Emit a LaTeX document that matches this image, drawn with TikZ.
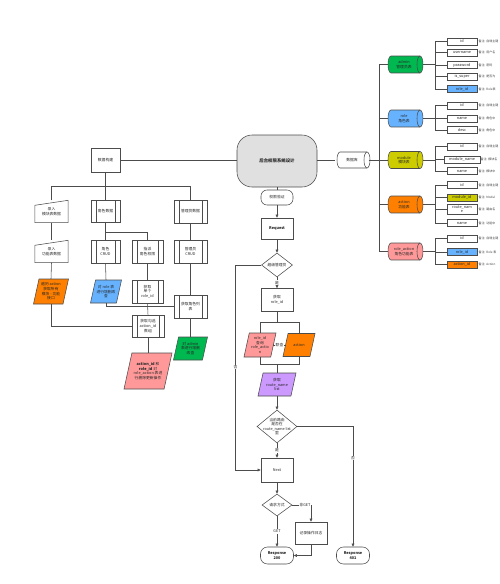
\documentclass[tikz,border=0pt]{standalone}
\usepackage{fontspec}
\setmainfont{Noto Sans CJK SC}
\usetikzlibrary{shapes.geometric,arrows.meta}
\definecolor{cgreen}{RGB}{0,184,80}
\definecolor{cblue}{RGB}{102,178,255}
\definecolor{corange}{RGB}{255,128,0}
\definecolor{colive}{RGB}{204,204,0}
\definecolor{cpink}{RGB}{255,153,153}
\definecolor{cpurple}{RGB}{204,153,255}
\definecolor{cgray}{RGB}{224,224,224}
\tikzset{
 ln/.style={draw=black!70, line width=0.55pt},
 ar/.style={ln, -{Triangle[length=3.2pt,width=2.8pt]}},
 tx/.style={font=\fontsize{3.8}{4.7}\selectfont, align=center, text=black!85, inner sep=0.5pt},
 bx/.style={tx, draw=black!70, line width=0.55pt, fill=white, minimum width=32pt, minimum height=23pt},
 subr/.style={bx, path picture={\draw[black!70, line width=0.5pt]
   ([xshift=5pt]path picture bounding box.north west) -- ([xshift=5pt]path picture bounding box.south west)
   ([xshift=-5pt]path picture bounding box.north east) -- ([xshift=-5pt]path picture bounding box.south east);}},
 fldbox/.style={tx, draw=black!70, line width=0.5pt, fill=white, minimum width=30pt, minimum height=7pt, inner sep=0.3pt},
 nt/.style={tx, anchor=west, font=\fontsize{3}{3.6}\selectfont, text=black!75, inner sep=0.2pt},
 lb/.style={tx, fill=white, inner sep=0.6pt},
 dia/.style={diamond, draw=black!70, line width=0.55pt, fill=white, inner sep=0pt},
 term/.style={bx, rounded corners=7pt},
 bold/.style={font=\fontsize{3.8}{4.7}\selectfont\bfseries},
}
% horizontal cylinder: name, cx, cy, a, b, fill, text
\newcommand\mycyl[7]{%
 \fill[#6] ({#2-#4+3},{#3-#5}) rectangle ({#2+#4-3},{#3+#5});
 \fill[#6] ({#2-#4+3},#3) ellipse [x radius=3, y radius=#5];
 \fill[#6] ({#2+#4-3},#3) ellipse [x radius=3, y radius=#5];
 \draw[ln] ({#2+#4-3},{#3-#5}) -- ({#2-#4+3},{#3-#5}) arc[start angle=270,end angle=90,x radius=3,y radius=#5] -- ({#2+#4-3},{#3+#5});
 \draw[ln] ({#2+#4-3},#3) ellipse [x radius=3, y radius=#5];
 \node[tx, minimum width={2*#4}, minimum height={2*#5}, inner sep=0pt] (#1) at ({#2-1.5},#3) {#7};}
% parallelogram: name, x, y, w, h, fill, text
\newcommand\mypgram[7]{%
 \filldraw[ln, fill=#6] ({#2-#4/2},{#3+#5/2}) -- ({#2+#4/2-0.22*#5},{#3+#5/2}) -- ({#2+#4/2},{#3-#5/2}) -- ({#2-#4/2+0.22*#5},{#3-#5/2}) -- cycle;
 \node[tx, minimum width=#4pt, minimum height=#5pt, inner sep=0pt] (#1) at (#2,#3) {#7};}
% manual input: name, x, y, text
\newcommand\myinput[4]{%
 \node[tx, minimum width=33pt, minimum height=22pt] (#1) at (#2,#3) {\\[-1pt]#4};
 \draw[ln] (#1.south west) -- (#1.south east) -- (#1.north east) -- ([yshift=-5pt]#1.north west) -- cycle;}
% field: name, y, text, fill, note
\newcommand\myfld[5]{%
 \node[fldbox, fill=#4] (#1) at (462,#2) {#3};
 \node[nt] (#1n) at (478.3,#2) {#5};
 \draw[ln] (#1.west) -- (#1.west -| sx);}

\begin{document}
\begin{tikzpicture}[x=1pt,y=-1pt]
\useasboundingbox (0,0) rectangle (500,584);
\clip (0,0) rectangle (500,584);
\coordinate (sx) at (435,0);
\coordinate (sp) at (379,0);

% ===== center top =====
\node[bx, fill=cgray, rounded corners=15pt, minimum width=80pt, minimum height=52pt, font=\fontsize{4.4}{5}\selectfont\bfseries] (main) at (277,161) {后台权限系统设计};
\mycyl{db}{353.5}{160}{16.5}{8}{white}{数据库}
\draw[ln] (main.east |- db.west) -- ([xshift=-0.5pt]db.west);
\node[bx, minimum width=29pt, minimum height=24pt] (build) at (105.5,160) {数据构建};
\draw[ln] (build.east) -- (build.east -| main.west);

% ===== right: tables =====
\mycyl{tadmin}{405.5}{64.5}{17.5}{8.5}{cgreen}{admin\\管理员表}
\mycyl{trole}{405.5}{118.5}{17.5}{8.5}{cblue}{role\\角色表}
\mycyl{tmod}{405.5}{160}{17.5}{8.5}{colive}{module\\模块表}
\mycyl{tact}{405.5}{204.5}{17.5}{8.5}{corange}{action\\功能表}
\mycyl{tra}{405.5}{251.5}{17.5}{8.5}{cpink}{role\_action\\角色功能表}
\draw[ln] (db.east) -- ([xshift=1.5pt]tmod.west);
\draw[ln] ([xshift=1.5pt]tadmin.west) -- (tadmin.west -| sp) -- (tra.west -| sp) -- ([xshift=1.5pt]tra.west);
\draw[ln] (trole.west -| sp) -- ([xshift=1.5pt]trole.west);
\draw[ln] (tact.west -| sp) -- ([xshift=1.5pt]tact.west);

% admin fields
\myfld{fa1}{41.5}{id}{white}{备注: 自增主键}
\myfld{fa2}{52.5}{username}{white}{备注: 用户名}
\myfld{fa3}{65}{password}{white}{备注: 密码}
\myfld{fa4}{76.5}{is\_super}{white}{备注: 是否为}
\myfld{fa5}{89}{role\_id}{cblue}{备注: Role表}
\draw[ln] (fa1.west -| sx) -- (fa5.west -| sx);
\draw[ln] ([xshift=1.5pt]tadmin.east) -- (tadmin.east -| sx);
% role fields
\myfld{fr1}{105.5}{id}{white}{备注: 自增主键}
\myfld{fr2}{118.5}{name}{white}{备注: 角色中}
\myfld{fr3}{130}{desc}{white}{备注: 角色中}
\draw[ln] (fr1.west -| sx) -- (fr3.west -| sx);
\draw[ln] ([xshift=1.5pt]trole.east) -- (trole.east -| sx);
% module fields
\myfld{fm1}{146.5}{id}{white}{备注: 自增主键}
\node[fldbox, minimum width=36pt] (fm2) at (462,159.5) {module\_name};
\node[nt] (fm2n) at (480.3,159.5) {备注: 模块名};
\draw[ln] (fm2.west) -- (fm2.west -| sx);
\myfld{fm3}{171}{name}{white}{备注: 模块中}
\draw[ln] (fm1.west -| sx) -- (fm3.west -| sx);
\draw[ln] ([xshift=1.5pt]tmod.east) -- (tmod.east -| sx);
% action fields
\myfld{fc1}{185}{id}{white}{备注: 自增主键}
\myfld{fc2}{197.5}{module\_id}{colive}{备注: Modul}
\node[fldbox, minimum height=10pt, font=\fontsize{3.8}{3.8}\selectfont] (fc3) at (462,209.5) {route\_nam\\e};
\node[nt] (fc3n) at (478.3,209.5) {备注: 路由名};
\draw[ln] (fc3.west) -- (fc3.west -| sx);
\myfld{fc4}{223}{name}{white}{备注: 功能中}
\draw[ln] (fc1.west -| sx) -- (fc4.west -| sx);
\draw[ln] ([xshift=1.5pt]tact.east) -- (tact.east -| sx);
% role_action fields
\myfld{fx1}{238.5}{id}{white}{备注: 自增主键}
\myfld{fx2}{252}{role\_id}{cblue}{备注: Role 表}
\myfld{fx3}{264.5}{action\_id}{corange}{备注: Action}
\draw[ln] (fx1.west -| sx) -- (fx3.west -| sx);
\draw[ln] ([xshift=1.5pt]tra.east) -- (tra.east -| sx);

% ===== left: data building =====
\myinput{m1}{51.5}{211.5}{录入\\模块表数据}
\myinput{m2}{51.5}{251.5}{录入\\功能表数据}
\mypgram{o1}{51}{291.5}{35}{25}{corange}{遍历 action\\获取所有\\模块 - 功能\\接口}
\node[subr, minimum width=29pt, minimum height=22pt] (r1) at (105.5,211.5) {角色数据};
\node[subr, minimum width=29pt] (r2) at (105.5,251.5) {角色\\CRUD};
\mypgram{b1}{106}{291.5}{31}{23}{cblue}{对 role 表\\进行增删改\\查}
\node[subr, minimum width=31pt] (r3) at (147.5,251.5) {指派\\角色权限};
\node[subr, minimum width=31pt] (r4) at (147.5,291.5) {获取\\单个\\role\_id};
\node[subr, minimum width=32pt, minimum height=22pt] (r5) at (148,326) {获取勾选\\action\_id\\数组};
\mypgram{p1}{148}{371}{48}{36}{cpink}{\textbf{action\_id} 和\\\textbf{role\_id} 对\\role\_action 表进\\行删除更新操作}
\node[subr, minimum width=33pt] (a1) at (190.5,211.5) {管理员数据};
\node[subr, minimum width=33pt] (a2) at (190.5,251.5) {管理员\\CRUD};
\node[subr, minimum width=33pt] (a3) at (190.5,306.5) {获取角色列\\表};
\mypgram{g1}{190.5}{348.5}{34}{23}{cgreen}{对 admin\\表进行增删\\改查}

\draw[ln] (build.south) -- (r1.north);
\draw[ln] (m1.north) -- (m1.north |- 0,186) -- (a1.north |- 0,186) -- (a1.north);
\draw[ln] (m1.south) -- (m2.north);
\draw[ln] (m2.south) -- (o1.north);
\draw[ln] (o1.south) |- (r5.west);
\draw[ln] (r1.south) -- (r2.north);
\draw[ln] (r3.north) |- (r1.south |- 0,232);
\draw[ln] (r2.south) -- (b1.north);
\draw[ln] (b1.south) |- (a3.west);
\draw[ln] (r3.south) -- (r4.north);
\draw[ln] (r4.south) -- (r5.north);
\draw[ln] (r5.south) -- (p1.north);
\draw[ln] (a1.south) -- (a2.north);
\draw[ln] (a2.south) -- (a3.north);
\draw[ln] (a3.south) -- (g1.north);

% ===== center flow =====
\node[term, minimum width=32pt, minimum height=15pt, rounded corners=6pt] (auth) at (277,197.5) {权限验证};
\draw[ln] (main.south) -- (auth.north);
\node[bx, minimum height=21pt, bold] (req) at (277,228.5) {Request};
\draw[ar] (auth) -- (req);
\node[dia, minimum width=31pt, minimum height=24pt] (d1) at (277,265) {};
\node[tx] (d1t) at (d1) {超级管理员};
\draw[ar] (req) -- (d1);
\node[bx] (rid) at (277,300) {获取\\role\_id};
\draw[ar] (d1.south) -- node[lb] (yes1) {是} (rid.north);

\mypgram{pk}{260}{345}{32}{24}{cpink}{role\_id\\查询\\role\_actio\\n}
\mypgram{ac}{299}{345}{32}{23}{corange}{action}
\draw[ln] (rid.south) -- (rid.south |- 0,322);
\draw[ln] (pk.north) |- (ac.north |- 0,322) -- (ac.north);
\draw[ln] (pk.south) |- (ac.south |- 0,364) -- (ac.south);
\draw[ln] ([xshift=-3pt]pk.east) -- node[lb] (lc) {联查} ([xshift=3pt]ac.west);

\mypgram{pu}{277}{384.5}{38}{23}{cpurple}{获取\\route\_name\\list}
\draw[ln] (pu.north) -- (pu.north |- 0,364);
\node[dia, minimum width=40pt, minimum height=33pt] (d2) at (277,426.5) {};
\node[tx, font=\fontsize{3.8}{4.4}\selectfont] (d2t) at (d2) {当前路由\\是否在\\route\_name list\\里};
\draw[ar] (pu) -- (d2);

\node[bx, minimum height=24pt] (nx) at (277,470) {Next};
\draw[ar] (d2.south) -- node[lb] (yes2) {是} (nx.north);
\draw[ar] (d1.west) -- ++(-26,0) |- (nx.west);
\node[lb] (no1) at (235.5,367) {否};

\node[term, minimum width=33pt, minimum height=17pt, bold] (r401) at (353,555.5) {Response\\401};
\draw[ar] (d2.east) -| (r401.north);
\node[lb] (no2) at (353,458) {否};

\node[dia, minimum width=30pt, minimum height=22pt] (d3) at (277,505) {};
\node[tx] (d3t) at (d3) {请求方式};
\draw[ar] (nx) -- (d3);
\node[term, minimum width=33pt, minimum height=17pt, bold] (r200) at (277,555.5) {Response\\200};
\draw[ar] (d3.south) -- node[lb] (get) {GET} (r200.north);
\node[bx, minimum height=22pt] (log) at (311,533) {记录操作日志};
\draw[ar] (d3.east) -| (log.north);
\node[lb] (nget) at (305,505) {非GET};
\draw[ar] (log.south) |- (r200.east);
\end{tikzpicture}
\end{document}
